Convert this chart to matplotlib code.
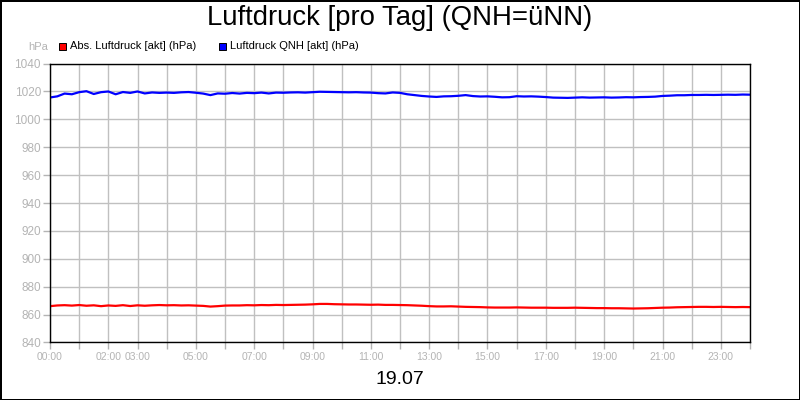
import numpy as np
import matplotlib
matplotlib.use("Agg")
import matplotlib.pyplot as plt

plt.rcParams['font.family'] = ['Liberation Sans', 'DejaVu Sans']

# readings every 15 minutes, 00:00 .. 24:00
hours = np.arange(97) * 0.25

qnh = [1015.7, 1016.5, 1018.5, 1018.0, 1019.5, 1020.2, 1018.2, 1019.5, 1020.0, 1018.0,
       1019.6, 1019.0, 1020.0, 1018.6, 1019.3, 1019.0, 1019.2, 1019.0, 1019.4, 1019.6,
       1019.1, 1018.5, 1017.4, 1018.6, 1018.4, 1018.9, 1018.5, 1019.0, 1018.8, 1019.2,
       1018.6, 1019.2, 1019.1, 1019.3, 1019.4, 1019.2, 1019.5, 1019.8, 1019.7, 1019.6,
       1019.5, 1019.4, 1019.5, 1019.3, 1019.2, 1018.8, 1018.6, 1019.3, 1019.0, 1018.0,
       1017.4, 1016.8, 1016.4, 1016.1, 1016.5, 1016.6, 1016.9, 1017.4, 1016.7, 1016.4,
       1016.5, 1016.2, 1015.8, 1015.9, 1016.6, 1016.4, 1016.5, 1016.3, 1016.0, 1015.6,
       1015.5, 1015.4, 1015.6, 1015.8, 1015.6, 1015.7, 1015.8, 1015.6, 1015.7, 1015.9,
       1015.8, 1016.0, 1016.1, 1016.3, 1016.8, 1017.0, 1017.3, 1017.3, 1017.5, 1017.5,
       1017.6, 1017.5, 1017.6, 1017.7, 1017.6, 1017.8, 1017.7]

absolut = [866.0, 866.5, 866.7, 866.4, 866.8, 866.3, 866.6, 866.0, 866.5, 866.2,
           866.7, 866.1, 866.6, 866.3, 866.6, 866.8, 866.6, 866.7, 866.5, 866.6,
           866.4, 866.2, 865.7, 866.0, 866.4, 866.5, 866.5, 866.7, 866.6, 866.8,
           866.7, 866.9, 866.8, 866.9, 867.0, 867.1, 867.3, 867.6, 867.6, 867.4,
           867.3, 867.2, 867.2, 867.1, 867.0, 867.1, 866.9, 866.9, 866.8, 866.7,
           866.5, 866.3, 866.0, 865.8, 865.8, 865.9, 865.7, 865.5, 865.4, 865.3,
           865.1, 865.0, 865.0, 865.0, 865.1, 865.0, 864.9, 864.9, 864.9, 864.8,
           864.8, 864.8, 864.9, 864.8, 864.7, 864.6, 864.6, 864.5, 864.5, 864.4,
           864.3, 864.4, 864.5, 864.7, 864.9, 865.0, 865.2, 865.3, 865.4, 865.5,
           865.5, 865.4, 865.5, 865.4, 865.3, 865.4, 865.3]

labelled_hours = [0, 2, 3, 5, 7, 9, 11, 13, 15, 17, 19, 21, 23]
y_ticks = list(range(840, 1041, 20))

title = 'Luftdruck [pro Tag] (QNH=üNN)'
day = '19.07'
names = ['Abs. Luftdruck [akt] (hPa)', 'Luftdruck QNH [akt] (hPa)']

grey = '#b4b4b4'

fig = plt.figure(figsize=(8, 4), dpi=100)
fig.patch.set_edgecolor('black')
fig.patch.set_linewidth(2)
ax = fig.add_axes([0.0625, 0.144, 0.875, 0.697])

ax.plot(hours, absolut, color='#ff0000', lw=1.6)
ax.plot(hours, qnh, color='#0000ff', lw=1.6)

ax.set_xlim(0, 24)
ax.set_ylim(840, 1040)
ax.set_xticks(range(25))
ax.set_xticklabels(['%02d:00' % h if h in labelled_hours else '' for h in range(25)])
ax.set_yticks(y_ticks)
ax.grid(True, color='#c0c0c0', lw=1)
ax.tick_params(colors=grey, labelcolor=grey, length=5, width=1)
ax.tick_params(axis='y', pad=1.5, labelsize=8.5)
ax.tick_params(axis='x', pad=2, labelsize=7.5)
for s in ax.spines.values():
    s.set_color('black')
    s.set_linewidth(1)

fig.text(0.5, 0.955, title, ha='center', va='center', fontsize=19.8)
fig.text(0.5, 0.052, day, ha='center', va='center', fontsize=14)
fig.text(0.048, 0.882, 'hPa', ha='center', va='center', fontsize=8, color=grey)

# legend squares with labels
for x0, c, name in [(0.074, '#ff0000', names[0]), (0.274, '#0000ff', names[1])]:
    fig.patches.append(plt.Rectangle((x0, 0.876), 0.0085, 0.017, transform=fig.transFigure,
                                     facecolor=c, edgecolor='black', lw=0.7))
    fig.text(x0 + 0.013, 0.885, name, ha='left', va='center', fontsize=8)

fig.savefig('out.png', dpi=100)
